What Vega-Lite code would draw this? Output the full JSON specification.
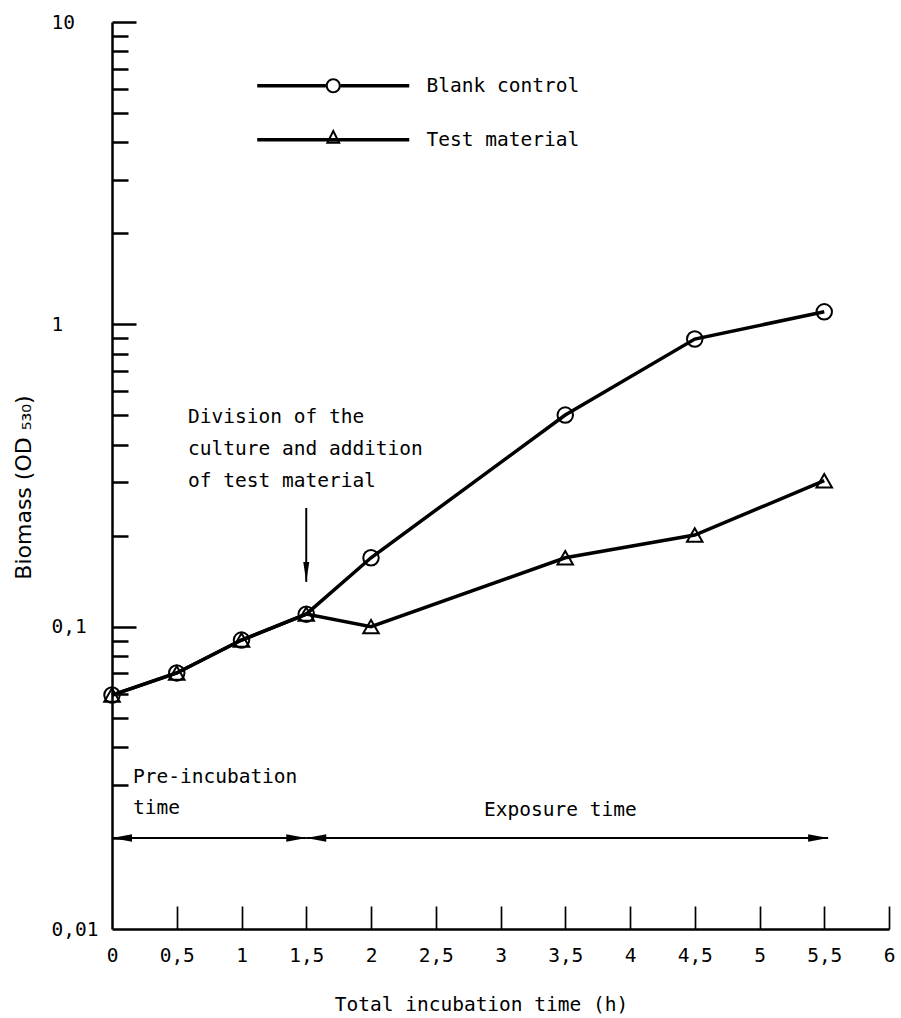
{
  "$schema": "https://vega.github.io/schema/vega-lite/v6.json",
  "width": 777,
  "height": 907,
  "autosize": {"type": "none"},
  "padding": {"left": 112, "top": 22, "right": 12, "bottom": 89},
  "background": "white",
  "config": {"view": {"stroke": null}, "axis": {"grid": false}, "font": "DejaVu Sans Mono"},
  "datasets": {
    "series": [
      {"series": "Blank control", "t": 0, "od": 0.0594},
      {"series": "Blank control", "t": 0.5, "od": 0.0703},
      {"series": "Blank control", "t": 1, "od": 0.0903},
      {"series": "Blank control", "t": 1.5, "od": 0.11},
      {"series": "Blank control", "t": 2, "od": 0.169},
      {"series": "Blank control", "t": 3.5, "od": 0.501},
      {"series": "Blank control", "t": 4.5, "od": 0.894},
      {"series": "Blank control", "t": 5.5, "od": 1.1},
      {"series": "Test material", "t": 0, "od": 0.0594},
      {"series": "Test material", "t": 0.5, "od": 0.0703},
      {"series": "Test material", "t": 1, "od": 0.0903},
      {"series": "Test material", "t": 1.5, "od": 0.11},
      {"series": "Test material", "t": 2, "od": 0.1},
      {"series": "Test material", "t": 3.5, "od": 0.169},
      {"series": "Test material", "t": 4.5, "od": 0.201},
      {"series": "Test material", "t": 5.5, "od": 0.304}
    ],
    "notes": [
      {"x": 0.587, "y": 0.4937, "label": "Division of the"},
      {"x": 0.587, "y": 0.387, "label": "culture and addition"},
      {"x": 0.587, "y": 0.3032, "label": "of test material"},
      {"x": 0.162, "y": 0.03183, "label": "Pre-incubation"},
      {"x": 0.162, "y": 0.02513, "label": "time"},
      {"x": 2.873, "y": 0.02475, "label": "Exposure time"}
    ],
    "arrows": [
      {"x": 0, "x2": 1.5, "y": 0.02, "y2": 0.02},
      {"x": 1.5, "x2": 5.53, "y": 0.02, "y2": 0.02},
      {"x": 1.5, "x2": 1.5, "y": 0.2469, "y2": 0.1406}
    ],
    "heads": [
      {"x": 0, "y": 0.02, "dir": "left"},
      {"x": 1.5, "y": 0.02, "dir": "right"},
      {"x": 1.5, "y": 0.02, "dir": "left"},
      {"x": 5.53, "y": 0.02, "dir": "right"},
      {"x": 1.5, "y": 0.1406, "dir": "down"}
    ]
  },
  "layer": [
    {
      "data": {"name": "series"},
      "mark": {"type": "line", "color": "black", "strokeWidth": 3.5},
      "encoding": {
        "x": {
          "field": "t", "type": "quantitative",
          "scale": {"domain": [0, 6], "nice": false, "zero": false},
          "axis": {
            "orient": "bottom", "values": [0, 0.5, 1, 1.5, 2, 2.5, 3, 3.5, 4, 4.5, 5, 5.5, 6],
            "ticks": false, "domain": true, "domainColor": "black", "domainWidth": 2.5,
            "labelExpr": "replace(toString(datum.value), '.', ',')",
            "labelFont": "DejaVu Sans Mono", "labelFontSize": 19.5, "labelColor": "black",
            "labelPadding": 17, "labelBaseline": "top", "labelFlush": false, "labelOverlap": false,
            "title": "Total incubation time (h)", "titleFont": "DejaVu Sans Mono", "titleFontSize": 19.5,
            "titleFontWeight": "normal", "titleColor": "black", "titleX": 369, "titleY": 81,
            "titleAlign": "center", "titleBaseline": "alphabetic", "grid": false
          }
        },
        "y": {
          "field": "od", "type": "quantitative",
          "scale": {"type": "log", "domain": [0.01, 10], "nice": false},
          "axis": {
            "orient": "left", "values": [0.01, 0.1, 1, 10],
            "ticks": false, "domain": true, "domainColor": "black", "domainWidth": 2.5,
            "labelExpr": "replace(toString(datum.value), '.', ',')",
            "labelFont": "DejaVu Sans Mono", "labelFontSize": 19.5, "labelColor": "black",
            "labelAlign": "left", "labelBaseline": "middle", "labelPadding": 61, "labelFlush": false, "labelOverlap": false,
            "title": "Biomass (OD ₅₃₀)", "titleFont": "DejaVu Sans", "titleFontSize": 22,
            "titleFontWeight": "normal", "titleColor": "black", "titleAngle": -90,
            "titleX": -82, "titleY": 465, "titleAlign": "center", "titleBaseline": "alphabetic", "grid": false
          }
        },
        "detail": {"field": "series"}
      }
    },
    {
      "data": {"name": "series"},
      "mark": {"type": "point", "filled": false, "color": "black", "strokeWidth": 2, "size": 240, "opacity": 1},
      "encoding": {
        "x": {
          "field": "t", "type": "quantitative",
          "scale": {"domain": [0, 6], "nice": false, "zero": false},
          "axis": {
            "orient": "bottom", "values": [0.5, 1, 1.5, 2, 2.5, 3, 3.5, 4, 4.5, 5, 5.5, 6],
            "ticks": true, "tickSize": -23, "tickWidth": 1.7, "tickColor": "black",
            "labels": false, "domain": false, "title": null, "grid": false
          }
        },
        "y": {
          "field": "od", "type": "quantitative",
          "scale": {"type": "log", "domain": [0.01, 10], "nice": false},
          "axis": {
            "orient": "left",
            "values": [0.02, 0.03, 0.04, 0.05, 0.06, 0.07, 0.08, 0.09, 0.2, 0.3, 0.4, 0.5, 0.6, 0.7, 0.8, 0.9, 2, 3, 4, 5, 6, 7, 8, 9],
            "ticks": true, "tickSize": -16, "tickWidth": 2.5, "tickColor": "black",
            "labels": false, "domain": false, "title": null, "grid": false
          }
        },
        "shape": {
          "field": "series", "type": "nominal",
          "scale": {"domain": ["Blank control", "Test material"], "range": ["circle", "triangle-up"]},
          "legend": null
        }
      }
    },
    {
      "data": {"name": "series"},
      "transform": [{"filter": "false"}],
      "mark": {"type": "point", "filled": true, "color": "black", "strokeWidth": 0, "size": 225, "opacity": 1},
      "encoding": {
        "x": {"field": "t", "type": "quantitative", "scale": {"domain": [0, 6], "nice": false, "zero": false}, "axis": null},
        "y": {"field": "od", "type": "quantitative", "scale": {"type": "log", "domain": [0.01, 10], "nice": false}, "axis": null},
        "shape": {
          "field": "series", "type": "nominal",
          "scale": {
            "domain": ["Blank control", "Test material"],
            "range": [
              "M-19.27,-0.233H-10.13V0.233H-19.27Z M-8.13,-0.233H1V0.233H-8.13Z M-10.13,0A1,1 0 1,1 -8.13,0A1,1 0 1,1 -10.13,0Z M-9.863,0A0.733,0.733 0 1,0 -8.397,0A0.733,0.733 0 1,0 -9.863,0Z",
              "M-19.27,-0.233H1V0.233H-19.27Z M-10.13,0.53L-9.13,-1.47L-8.13,0.53Z M-9.693,0.26L-8.567,0.26L-9.13,-0.866Z"
            ]
          },
          "legend": {
            "title": null, "orient": "none", "legendX": 280, "legendY": 54,
            "labelFont": "DejaVu Sans Mono", "labelFontSize": 19.5, "labelColor": "black",
            "labelOffset": 15, "symbolSize": 225, "rowPadding": 32, "padding": 0, "labelLimit": 0,
            "symbolFillColor": "black", "symbolStrokeWidth": 0, "symbolOpacity": 1
          }
        }
      }
    },
    {
      "data": {"name": "notes"},
      "mark": {"type": "text", "font": "DejaVu Sans Mono", "fontSize": 19.5, "color": "black", "align": "left", "baseline": "middle"},
      "encoding": {
        "x": {"field": "x", "type": "quantitative", "scale": {"domain": [0, 6], "nice": false, "zero": false}, "axis": null},
        "y": {
          "field": "y", "type": "quantitative",
          "scale": {"type": "log", "domain": [0.01, 10], "nice": false},
          "axis": {
            "orient": "left", "values": [0.1, 1, 10],
            "ticks": true, "tickSize": -24, "tickWidth": 2.5, "tickColor": "black",
            "labels": false, "domain": false, "title": null, "grid": false
          }
        },
        "text": {"field": "label"}
      }
    },
    {
      "data": {"name": "arrows"},
      "mark": {"type": "rule", "color": "black", "strokeWidth": 2},
      "encoding": {
        "x": {"field": "x", "type": "quantitative", "scale": {"domain": [0, 6], "nice": false, "zero": false}, "axis": null},
        "x2": {"field": "x2"},
        "y": {"field": "y", "type": "quantitative", "scale": {"type": "log", "domain": [0.01, 10], "nice": false}, "axis": null},
        "y2": {"field": "y2"}
      }
    },
    {
      "data": {"name": "heads"},
      "mark": {"type": "point", "filled": true, "color": "black", "size": 225, "opacity": 1, "strokeWidth": 0},
      "encoding": {
        "x": {"field": "x", "type": "quantitative", "scale": {"domain": [0, 6], "nice": false, "zero": false}, "axis": null},
        "y": {"field": "y", "type": "quantitative", "scale": {"type": "log", "domain": [0.01, 10], "nice": false}, "axis": null},
        "shape": {
          "field": "dir", "type": "nominal",
          "scale": {"domain": ["left", "right", "down"], "range": ["M0,0L2.67,-0.5L2.67,0.5Z", "M0,0L-2.67,-0.5L-2.67,0.5Z", "M0,0L-0.4,-2.67L0.4,-2.67Z"]},
          "legend": null
        }
      }
    }
  ],
  "resolve": {
    "scale": {"shape": "independent"},
    "axis": {"x": "independent", "y": "independent"}
  }
}
